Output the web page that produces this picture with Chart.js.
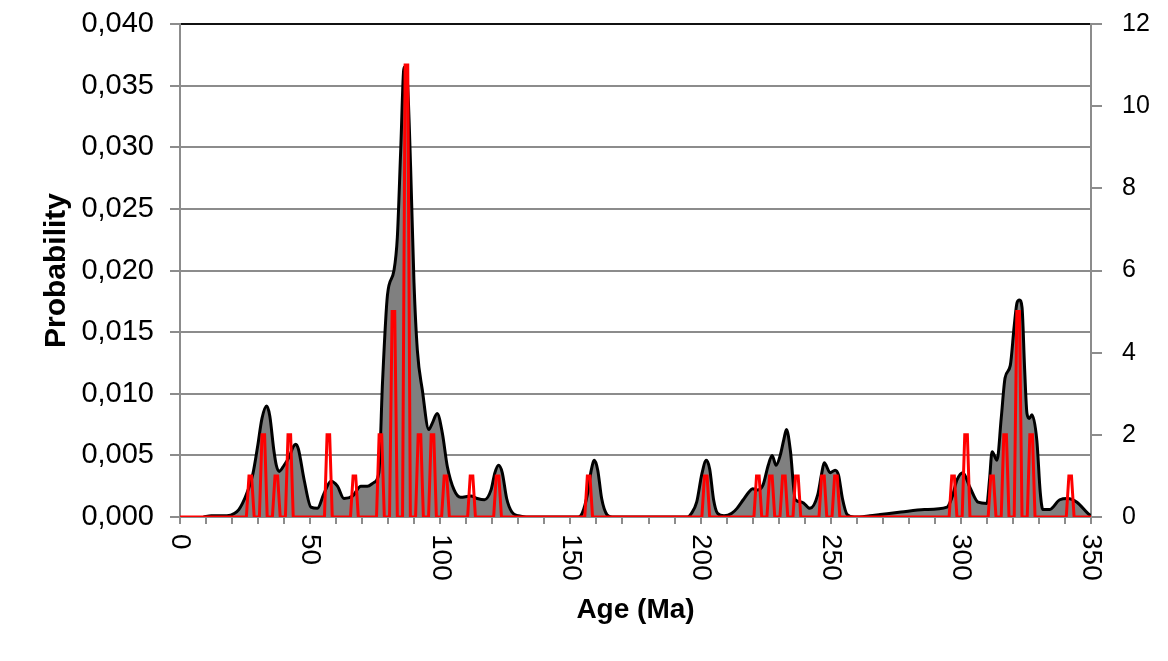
<!DOCTYPE html>
<html>
<head>
<meta charset="utf-8">
<script src="https://cdn.jsdelivr.net/npm/chart.js@4/dist/chart.umd.min.js"></script>
<style>
  html, body { margin: 0; padding: 0; background: #ffffff; }
  #wrap { width: 1168px; height: 661px; position: relative; }
</style>
</head>
<body>
<div id="wrap"><canvas id="c" width="1168" height="661"></canvas></div>
<script>
// ---- Data ----
// Probability density curve (left axis)
const densityAges = [9,12,18,21,22.6,24,26,28,29.8,31.5,33.3,34.5,36,37,38.1,40,42,43.5,44.5,45.5,47.7,50.3,52.8,55.3,58,60.5,63,66.3,69.5,72,74.5,76.4,77.8,79.7,82.2,83.5,84.8,86.1,87.4,88.6,89.9,91.2,93.1,95.6,96.9,98.8,100.8,102.7,105.3,107.8,111.7,114.2,117,119.5,121,122.4,123.8,125.5,127.5,130,133,153,154.5,156.5,158,159.2,160.5,162,164,166,195,196.5,198.5,200.5,202.2,203.5,205,206.5,209,212,214,216.4,218.5,220,222,224,226,227.5,229,230.6,232,233,234.5,236.4,239,242,245,246.5,247.5,249.8,251.7,253,254.5,256.3,259,265,269,277,286,294.7,296.6,298.5,300.8,303.5,306.6,310,311,312,313.9,315.5,317,319,320.5,321.6,322.5,323.5,324.5,325.4,326.3,327.3,329.2,330.5,331.5,334,338,341,344.6,348.8,350];
const densityValues = [0,0.0001,0.0001,0.0003,0.0006,0.0011,0.0021,0.0035,0.0057,0.0080,0.0090,0.0082,0.0055,0.0042,0.0037,0.0042,0.0049,0.0057,0.0059,0.0055,0.0030,0.0008,0.0007,0.0019,0.0029,0.0025,0.0015,0.0017,0.0025,0.0025,0.0028,0.0036,0.0109,0.0180,0.0200,0.0227,0.0298,0.0365,0.0352,0.0284,0.0190,0.0135,0.0103,0.0071,0.0076,0.0084,0.0068,0.0041,0.0022,0.0016,0.0017,0.0015,0.0014,0.0022,0.0036,0.0042,0.0036,0.0015,0.0004,0.0001,0,0,0.0003,0.0018,0.0038,0.0046,0.0038,0.0015,0.0002,0,0,0.0003,0.0012,0.0035,0.0046,0.0039,0.0014,0.0003,0.0001,0.0003,0.0007,0.0014,0.0020,0.0023,0.0022,0.0026,0.0042,0.0050,0.0042,0.0050,0.0063,0.0071,0.0054,0.0014,0.0012,0.0007,0.0018,0.0035,0.0044,0.0036,0.0038,0.0034,0.0015,0.0002,0,0.0001,0.0002,0.0004,0.0006,0.0008,0.0016,0.0030,0.0036,0.0024,0.0012,0.0011,0.0030,0.0053,0.0046,0.0080,0.0113,0.0123,0.0155,0.0174,0.0176,0.0170,0.0120,0.0084,0.0080,0.0083,0.0062,0.0020,0.0006,0.0006,0.0014,0.0015,0.0012,0.0003,0.0001];

// Histogram counts (right axis): bin centre ages and counts
const histAges   = [27,32,37,42,57,67,77,82,87,92,97,102,112,122,157,202,222,227,232,237,247,252,297,302,312,317,322,327,342];
const histCounts = [1,2,1,2,2,1,2,5,11,2,2,1,1,1,1,1,1,1,1,1,1,1,1,2,1,2,5,2,1];

// Axis ticks
const xLabelValues = [0,50,100,150,200,250,300,350];
const leftTicks = { min: 0, max: 0.04, step: 0.005 };
const rightTicks = { min: 0, max: 12, step: 2 };

// ---- Build library data ----
const densityPoints = densityAges.map((a, i) => ({ x: a, y: densityValues[i] }));
const histPoints = [{ x: 0, y: 0 }];
histAges.forEach((c, i) => {
  histPoints.push({ x: c - 1.5, y: 0 }, { x: c - 0.5, y: histCounts[i] }, { x: c + 0.5, y: histCounts[i] }, { x: c + 1.5, y: 0 });
});
histPoints.push({ x: 350, y: 0 });

const FONT = '"Liberation Sans", Arial, Helvetica, sans-serif';
const GRID = '#8c8c8c';

const xLabelsPlugin = {
  id: 'xLabels',
  afterDraw(chart) {
    const sx = chart.scales.x;
    const ctx = chart.ctx;
    ctx.save();
    ctx.fillStyle = '#000';
    ctx.font = '28px ' + FONT;
    ctx.textAlign = 'left';
    ctx.textBaseline = 'middle';
    xLabelValues.forEach(v => {
      const px = sx.getPixelForValue(v);
      ctx.save();
      ctx.translate(px, 534);
      ctx.rotate(Math.PI / 2);
      ctx.fillText(String(v), 0, 0);
      ctx.restore();
    });
    ctx.restore();
  }
};

function noPad(s) { s.paddingTop = 0; s.paddingBottom = 0; }

new Chart(document.getElementById('c'), {
  type: 'line',
  data: {
    datasets: [
      {
        label: 'Probability',
        data: densityPoints,
        yAxisID: 'y',
        order: 2,
        borderColor: '#000000',
        borderWidth: 3,
        backgroundColor: '#808080',
        fill: 'origin',
        pointRadius: 0,
        cubicInterpolationMode: 'monotone'
      },
      {
        label: 'Frequency',
        data: histPoints,
        yAxisID: 'y2',
        order: 1,
        borderColor: '#ff0000',
        borderWidth: 3,
        fill: false,
        pointRadius: 0,
        tension: 0
      }
    ]
  },
  options: {
    responsive: false,
    animation: false,
    devicePixelRatio: 1,
    layout: { padding: { top: 24, left: 0, right: 0, bottom: 0 } },
    plugins: { legend: { display: false }, tooltip: { enabled: false } },
    scales: {
      x: {
        type: 'linear',
        min: 0, max: 350,
        ticks: { stepSize: 10, display: false },
        grid: { drawOnChartArea: false, drawTicks: true, tickLength: 7, tickColor: GRID, lineWidth: 2 },
        border: { display: true, color: GRID, width: 2 },
        title: { display: true, text: 'Age (Ma)', color: '#000', font: { family: FONT, size: 28, weight: 'bold' }, padding: { top: 0, bottom: 34 } },
        afterFit(s) { s.height = 144; s.paddingLeft = 0; s.paddingRight = 0; }
      },
      y: {
        position: 'left',
        min: leftTicks.min, max: leftTicks.max,
        ticks: {
          stepSize: leftTicks.step,
          color: '#000',
          padding: 16,
          font: { family: FONT, size: 29 },
          callback: v => v.toFixed(3).replace('.', ',')
        },
        grid: {
          color: c => (c.tick && Math.abs(c.tick.value - 0.04) < 1e-9) ? '#111111' : GRID,
          tickColor: GRID,
          lineWidth: 2,
          tickLength: 10
        },
        border: { display: true, color: GRID, width: 2 },
        title: { display: true, text: 'Probability', color: '#000', font: { family: FONT, size: 30, weight: 'bold' }, padding: { top: 39, bottom: 0 } },
        afterFit(s) { s.width = 180; noPad(s); }
      },
      y2: {
        position: 'right',
        min: rightTicks.min, max: rightTicks.max,
        ticks: {
          stepSize: rightTicks.step,
          color: '#000',
          padding: 20,
          font: { family: FONT, size: 25 }
        },
        grid: { drawOnChartArea: false, tickColor: GRID, lineWidth: 2, tickLength: 11 },
        border: { display: true, color: GRID, width: 2 },
        afterFit(s) { s.width = 77; noPad(s); }
      }
    }
  },
  plugins: [xLabelsPlugin]
});
</script>
</body>
</html>
